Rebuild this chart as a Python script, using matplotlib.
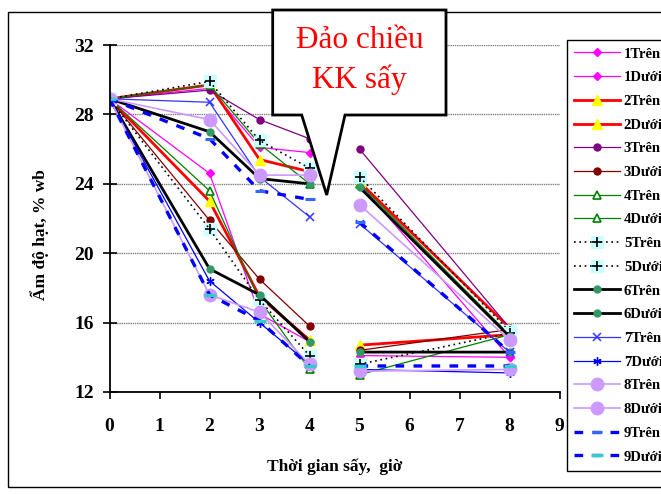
import numpy as np
import matplotlib
matplotlib.use("Agg")
import matplotlib.pyplot as plt
from matplotlib.patches import Polygon, Rectangle
from matplotlib.legend_handler import HandlerTuple

plt.rcParams['font.family'] = ['Liberation Serif', 'DejaVu Serif']

nan = np.nan
# Drying time (hours); the NaN splits the run before/after the air reversal
hours = [0, 2, 3, 4, nan, 5, 8]

m1_tren = [28.9, 29.5, 26.1, 25.8, nan, 24.0, 14.0]
m1_duoi = [28.9, 24.6, 16.5, 14.9, nan, 14.1, 14.0]
m2_tren = [28.9, 29.7, 25.4, 24.7, nan, 24.1, 15.7]
m2_duoi = [28.9, 23.0, 17.5, 15.0, nan, 14.7, 15.3]
m3_tren = [28.9, 29.4, 27.7, 26.6, nan, 26.0, 15.7]
m3_duoi = [28.9, 21.9, 18.5, 15.8, nan, 14.4, 15.6]
m4_tren = [28.9, 29.7, 26.3, 24.0, nan, 24.0, 15.3]
m4_duoi = [28.9, 23.6, 17.3, 13.3, nan, 13.0, 15.3]
m5_tren = [28.9, 29.9, 26.5, 24.9, nan, 24.4, 15.5]
m5_duoi = [28.9, 21.4, 17.3, 14.1, nan, 13.6, 15.4]
m6_tren = [28.9, 27.0, 24.3, 24.0, nan, 23.8, 15.2]
m6_duoi = [28.9, 19.1, 17.6, 14.9, nan, 14.3, 14.3]
m7_tren = [28.9, 28.7, 24.4, 22.1, nan, 21.7, 14.3]
m7_duoi = [28.9, 18.4, 16.0, 13.6, nan, 13.3, 13.1]
m8_tren = [28.9, 27.7, 24.5, 24.5, nan, 22.8, 15.0]
m8_duoi = [28.9, 17.6, 16.6, 13.6, nan, 13.2, 13.3]
m9_tren = [28.9, 26.6, 23.6, 23.1, nan, 21.8, 14.3]
m9_duoi = [28.9, 17.6, 16.1, 13.5, nan, 13.5, 13.5]

labels = ["1Trên", "1Dưới", "2Trên", "2Dưới", "3Trên", "3Dưới",
          "4Trên", "4Dưới", "5Trên", "5Dưới", "6Trên", "6Dưới",
          "7Trên", "7Dưới", "8Trên", "8Dưới", "9Trên", "9Dưới"]
series = [m1_tren, m1_duoi, m2_tren, m2_duoi, m3_tren, m3_duoi,
          m4_tren, m4_duoi, m5_tren, m5_duoi, m6_tren, m6_duoi,
          m7_tren, m7_duoi, m8_tren, m8_duoi, m9_tren, m9_duoi]

yticks = [12, 16, 20, 24, 28, 32]
xticks = list(range(0, 10))

asterisk = (6, 2, 0)
styles = [
    dict(color='#FF00FF', lw=0.9, ls='-', marker='D', ms=4, mfc='#FF00FF', mec='#FF00FF'),
    dict(color='#FF00FF', lw=0.9, ls='-', marker='D', ms=4, mfc='#FF00FF', mec='#FF00FF'),
    dict(color='#FF0000', lw=2.0, ls='-', marker='^', ms=6.5, mfc='#FFFF00', mec='#FFFF00'),
    dict(color='#FF0000', lw=2.0, ls='-', marker='^', ms=6.5, mfc='#FFFF00', mec='#FFFF00'),
    dict(color='#800080', lw=0.9, ls='-', marker='o', ms=5, mfc='#800080', mec='#800080'),
    dict(color='#800000', lw=0.9, ls='-', marker='o', ms=5, mfc='#800000', mec='#800000'),
    dict(color='#008000', lw=0.9, ls='-', marker='^', ms=5.5, mfc='white', mec='#008000', mew=1.2),
    dict(color='#008000', lw=0.9, ls='-', marker='^', ms=5.5, mfc='white', mec='#008000', mew=1.2),
    dict(color='#000000', lw=1.2, ls=(0, (1, 2.2)), marker='+', ms=7, mfc='black', mec='black', mew=1.2),
    dict(color='#000000', lw=1.2, ls=(0, (1, 2.2)), marker='+', ms=7, mfc='black', mec='black', mew=1.2),
    dict(color='#000000', lw=2.0, ls='-', marker='o', ms=5, mfc='#339966', mec='#339966'),
    dict(color='#000000', lw=2.0, ls='-', marker='o', ms=5, mfc='#339966', mec='#339966'),
    dict(color='#3333FF', lw=0.9, ls='-', marker='x', ms=6, mfc='#3333FF', mec='#3333FF', mew=1.1),
    dict(color='#0000FF', lw=0.9, ls='-', marker=asterisk, ms=6, mfc='#0000FF', mec='#0000FF', mew=1.0),
    dict(color='#CC99FF', lw=1.2, ls='-', marker='o', ms=9, mfc='#CC99FF', mec='#CC99FF'),
    dict(color='#CC99FF', lw=1.2, ls='-', marker='o', ms=9, mfc='#CC99FF', mec='#CC99FF'),
    dict(color='#0000FF', lw=2.4, ls=(0, (2.6, 2.8)), marker='_', ms=7, mfc='#3366FF', mec='#3366FF', mew=2.2),
    dict(color='#0000FF', lw=2.4, ls=(0, (2.6, 2.8)), marker='_', ms=8, mfc='#33CCCC', mec='#33CCCC', mew=2.4),
]

W, H = 661, 495
fig = plt.figure(figsize=(W / 100, H / 100), dpi=100)
ax = fig.add_axes([109.5 / W, 1 - 392 / H, 450 / W, 347 / H])

x = np.array(hours, dtype=float)
handles = []
for i, (vals, st, lab) in enumerate(zip(series, styles, labels)):
    y = np.array(vals, dtype=float)
    if lab.startswith('5'):
        bg = ax.plot(x, y, ls='none', marker='s', ms=8, mfc='#CCFFFF', mec='#CCFFFF',
                     zorder=2 + i * 0.01)[0]
        ln = ax.plot(x, y, label=lab, zorder=2 + i * 0.01 + 0.005, **st)[0]
        handles.append((bg, ln))
    else:
        ln = ax.plot(x, y, label=lab, zorder=2 + i * 0.01, **st)[0]
        handles.append(ln)

ax.set_xlim(0, 9)
ax.set_ylim(12, 32)
ax.set_xticks(xticks)
ax.set_yticks(yticks)
ax.grid(axis='y', color='#808080', lw=1.0, ls=(0, (1, 0.6)))
ax.set_axisbelow(True)
for s in ('top', 'right'):
    ax.spines[s].set_visible(False)
for s in ('left', 'bottom'):
    ax.spines[s].set_linewidth(1.3)
ax.tick_params(axis='y', direction='inout', length=10, width=1.2, pad=6,
               labelsize=14)
ax.tick_params(axis='x', direction='out', length=5, width=1.2, pad=14,
               labelsize=14)
for t in ax.get_xticklabels() + ax.get_yticklabels():
    t.set_fontweight('bold')

fig.text(40 / W, 1 - 235 / H, "Ẩm độ hạt, % wb", rotation=90, ha='center',
         va='center', fontsize=12.5, fontweight='bold')
fig.text(335 / W, 1 - 467 / H, "Thời gian sấy,  giờ", ha='center',
         va='center', fontsize=12.5, fontweight='bold')

leg = fig.legend(handles, labels, loc='upper left',
                 bbox_to_anchor=(567 / W, 1 - 40 / H), frameon=True,
                 fancybox=False, edgecolor='black', framealpha=1,
                 prop=dict(weight='bold', size=10.5), handlelength=3.1,
                 handletextpad=0.3, labelspacing=0.72, borderpad=0.5,
                 borderaxespad=0, numpoints=1,
                 handler_map={tuple: HandlerTuple(ndivide=1)})
leg.get_frame().set_linewidth(1.0)

# Outer chart border
fig.add_artist(Rectangle((8 / W, 8.3 / H), 1.0, 1 - 12 / H - 8.3 / H,
                         transform=fig.transFigure, fill=False,
                         edgecolor='black', lw=1.0, zorder=0))

# Callout pointing at the air-reversal gap
pts = [(272.7, 10), (446, 10), (446, 115), (345, 115), (326.7, 195),
       (301.7, 115), (272.7, 115)]
fig.add_artist(Polygon([(px / W, 1 - py / H) for px, py in pts], closed=True,
                       transform=fig.transFigure, facecolor='white',
                       edgecolor='black', lw=2.0, zorder=10))
fig.text(359.5 / W, 1 - 40 / H, "Đảo chiều", ha='center', va='center',
         fontsize=22.5, color='#FF0000', zorder=11)
fig.text(359.5 / W, 1 - 80 / H, "KK sấy", ha='center', va='center',
         fontsize=22.5, color='#FF0000', zorder=11)

fig.savefig("out.png", dpi=100)
